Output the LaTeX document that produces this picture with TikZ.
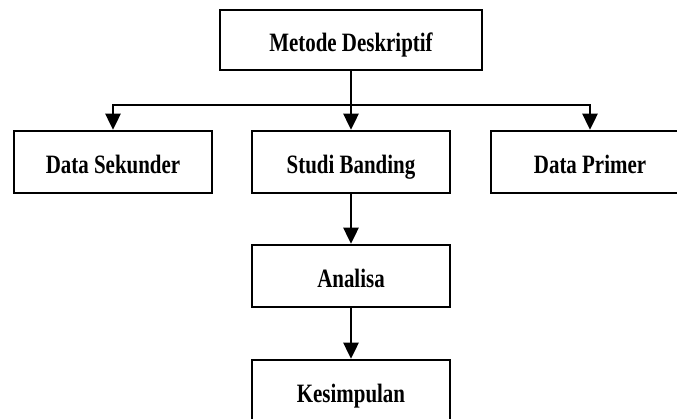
\documentclass[tikz,border=0pt]{standalone}
\usepackage{fontspec}
\setmainfont{Liberation Serif}[FakeStretch=0.79]
\usepackage{tikz}
\usetikzlibrary{arrows.meta}
\tikzset{kotak/.style={rectangle,draw,line width=2.5pt,minimum width=198pt,minimum height=62pt,inner sep=0pt,text height=23pt,text depth=0pt,font=\bfseries\fontsize{26.5}{30}\selectfont}}

\begin{document}
\begin{tikzpicture}[x=1pt,y=1pt,>={Triangle[width=15pt,length=16pt]},line width=2.5pt]
        \useasboundingbox (0,0) rectangle (677,419);
        \node[kotak,minimum width=262pt,minimum height=60pt] (metode) at (351,379) {Metode Deskriptif};
        \node[kotak] (sekunder) at (113,257) {Data Sekunder};
        \node[kotak] (studi) at (351,257) {Studi Banding};
        \node[kotak] (primer) at (590,257) {Data Primer};
        \node[kotak] (analisa) at (351,143) {Analisa};
        \node[kotak] (kesimpulan) at (351,28) {Kesimpulan};
        \coordinate (cabang) at (351,314);

        \draw [->] (metode) to [] (studi);
        \draw [->] (cabang) -| (sekunder);
        \draw [->] (cabang) -| (primer);
        \draw [->] (studi) to [] (analisa);
        \draw [->] (analisa) to [] (kesimpulan);

    \end{tikzpicture}
\end{document}
